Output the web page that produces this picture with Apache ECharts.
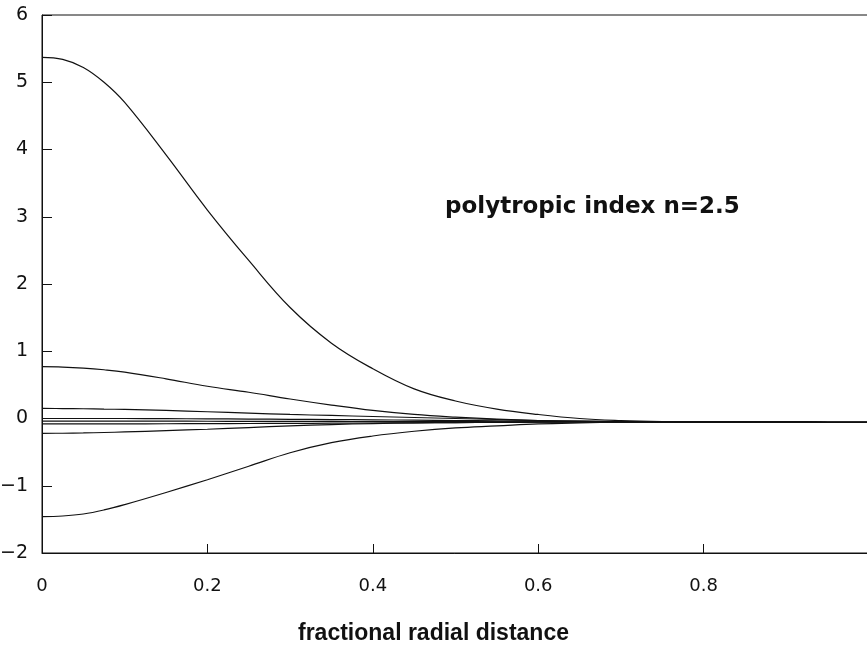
<!DOCTYPE html>
<html>
<head>
<meta charset="utf-8">
<script src="https://cdn.jsdelivr.net/npm/echarts@6/dist/echarts.min.js"></script>
<style>html,body{margin:0;padding:0;background:#fff}#c{width:867px;height:650px}</style>
</head>
<body>
<div id="c"></div>
<script>
const xs = [0,0.025,0.05,0.075,0.1,0.15,0.2,0.25,0.3,0.35,0.4,0.45,0.5,0.55,0.6,0.65,0.7,0.75,0.8,0.85,0.9,0.95,1.0];
const curve1 = [5.37,5.34,5.22,5.00,4.70,3.92,3.10,2.35,1.65,1.12,0.74,0.44,0.26,0.14,0.06,0.00,-0.03,-0.045,-0.05,-0.052,-0.054,-0.056,-0.058];
const curve2 = [0.77,0.765,0.75,0.725,0.69,0.59,0.48,0.39,0.29,0.20,0.12,0.06,0.02,-0.01,-0.03,-0.04,-0.046,-0.049,-0.05,-0.052,-0.054,-0.056,-0.058];
const curve3 = [0.15,0.148,0.145,0.14,0.135,0.12,0.10,0.08,0.06,0.045,0.03,0.015,0.0,-0.015,-0.03,-0.04,-0.046,-0.049,-0.05,-0.052,-0.054,-0.056,-0.058];
const curve4 = [0.0,0.0,0.0,0.0,0.0,-0.003,-0.005,-0.008,-0.012,-0.016,-0.02,-0.025,-0.03,-0.035,-0.04,-0.045,-0.048,-0.05,-0.05,-0.052,-0.054,-0.056,-0.058];
const curve5 = [-0.04,-0.04,-0.04,-0.04,-0.04,-0.04,-0.041,-0.042,-0.043,-0.044,-0.045,-0.046,-0.047,-0.048,-0.049,-0.05,-0.05,-0.05,-0.05,-0.052,-0.054,-0.056,-0.058];
const curve6 = [-0.08,-0.08,-0.08,-0.08,-0.079,-0.078,-0.076,-0.074,-0.072,-0.07,-0.067,-0.064,-0.061,-0.058,-0.055,-0.052,-0.051,-0.05,-0.05,-0.052,-0.054,-0.056,-0.058];
const curve7 = [-0.22,-0.219,-0.215,-0.208,-0.20,-0.18,-0.16,-0.135,-0.11,-0.09,-0.075,-0.065,-0.06,-0.055,-0.052,-0.051,-0.05,-0.05,-0.05,-0.052,-0.054,-0.056,-0.058];
const curve8 = [-1.46,-1.45,-1.42,-1.36,-1.28,-1.10,-0.91,-0.71,-0.51,-0.36,-0.26,-0.19,-0.14,-0.11,-0.08,-0.065,-0.056,-0.051,-0.05,-0.052,-0.054,-0.056,-0.058];
const xTicks = [0,0.2,0.4,0.6,0.8];
const yTicks = [-2,-1,0,1,2,3,4,5,6];
const xTitle = 'fractional radial distance';
const note = 'polytropic index n=2.5';

const curves = [curve1,curve2,curve3,curve4,curve5,curve6,curve7,curve8];
const chart = echarts.init(document.getElementById('c'), null, {renderer:'canvas'});
const font = 'DejaVu Sans, sans-serif';
const fontL = 'Liberation Sans, Arial, sans-serif';
chart.setOption({
  animation:false,
  backgroundColor:'#fff',
  grid:{left:42,right:-2,top:15,bottom:97,containLabel:false,outerBoundsMode:'none',show:true,borderColor:'#111',borderWidth:1,backgroundColor:'transparent'},
  xAxis:{type:'value',min:0,max:1,interval:0.2,
    axisLine:{onZero:false,lineStyle:{color:'#111',width:1}},
    axisTick:{inside:true,length:9,lineStyle:{color:'#111'}},
    splitLine:{show:false},
    axisLabel:{color:'#111',fontSize:18,fontFamily:font,margin:24,showMaxLabel:false,
      formatter:v=>{const r=Math.round(v*10)/10;return xTicks.indexOf(r)>=0?String(r):'';}}},
  yAxis:{type:'value',min:-2,max:6,interval:1,
    axisLine:{onZero:false,lineStyle:{color:'#111',width:1}},
    axisTick:{inside:true,length:10,lineStyle:{color:'#111'}},
    splitLine:{show:false},
    axisLabel:{color:'#111',fontSize:19,fontFamily:font,margin:14,
      formatter:v=>yTicks.indexOf(v)>=0?String(v).replace('-','\u2212'):''}},
  graphic:[
    {type:'text',left:'center',top:622,style:{text:xTitle,fontSize:23,fontWeight:'bold',fontFamily:fontL,fill:'#111'}},
    {type:'text',left:445,top:196,style:{text:note,fontSize:23,fontWeight:'bold',fontFamily:font,fill:'#111'}}
  ],
  series:curves.map(c=>({type:'line',data:xs.map((x,i)=>[x,c[i]]),smooth:0.4,showSymbol:false,
    lineStyle:{color:'#111',width:1.2},silent:true}))
});
</script>
</body>
</html>
